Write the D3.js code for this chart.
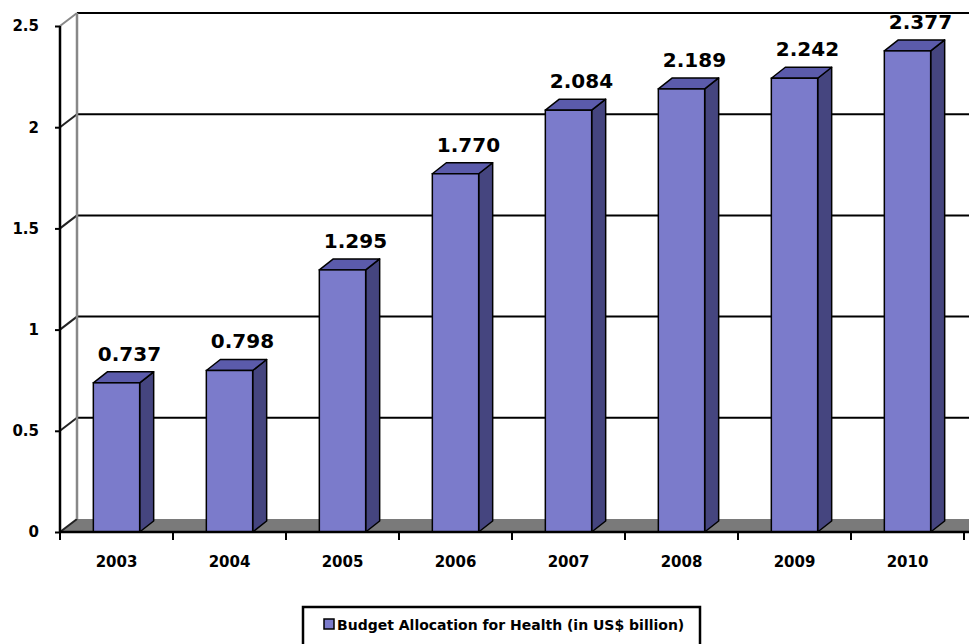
<!DOCTYPE html>
<html lang="en">
<head>
  <meta charset="UTF-8">
  <title>Budget Allocation for Health</title>
  <style>
    body {
      margin: 0;
      background-color: white;
    }

    text {
      font-family: "DejaVu Sans", Verdana, sans-serif;
      font-weight: bold;
      fill: black;
    }

    .value {
      font-size: 20px;
      text-anchor: middle;
    }

    .axis path {
      display: none;
    }

    .axis line {
      stroke: black;
      stroke-width: 2;
    }
  </style>
</head>
<body>
  <svg id="chart" width="969" height="644"></svg>

  <script src="https://d3js.org/d3.v7.min.js"></script>
  <script>
    var years = ["2003", "2004", "2005", "2006", "2007", "2008", "2009", "2010"];
    var budget = [0.737, 0.798, 1.295, 1.770, 2.084, 2.189, 2.242, 2.377];
    var yTicks = [0, 0.5, 1, 1.5, 2, 2.5];
    var legendLabel = "Budget Allocation for Health (in US$ billion)";

    var chart = d3.select("#chart");

    var plotLeft = 60, plotRight = 964, plotBottom = 532, plotTop = 26;
    // depth offsets for the back wall and for the bar tops
    var wallDx = 17, wallDy = -13;
    var barDx = 14, barDy = -11;

    var xBand = d3.scaleBand().domain(years).range([plotLeft, plotRight]);
    var x = d3.scaleBand().domain(years).range([plotLeft, plotRight])
      .paddingInner(0.59).paddingOuter(0.295);
    var y = d3.scaleLinear().domain([0, 2.5]).range([plotBottom, plotTop]);

    var colFront = "#7b7bcb", colSide = "#45457f", colTop = "#5b5bab";

    // floor
    chart.append("polygon")
      .attr("points", [[plotLeft, plotBottom], [plotLeft + wallDx, plotBottom + wallDy],
        [plotRight + wallDx + 20, plotBottom + wallDy], [plotRight + 20, plotBottom]].join(" "))
      .attr("fill", "#7a7a7a");

    // back wall gridlines
    chart.selectAll(".grid")
      .data(yTicks.filter(function(d) { return d > 0; }))
      .enter().append("line")
      .attr("class", "grid")
      .attr("x1", plotLeft + wallDx)
      .attr("x2", 990)
      .attr("y1", function(d) { return y(d) + wallDy; })
      .attr("y2", function(d) { return y(d) + wallDy; })
      .attr("stroke", "black")
      .attr("stroke-width", 2);

    // side wall lines
    chart.selectAll(".diag")
      .data(yTicks)
      .enter().append("line")
      .attr("class", "diag")
      .attr("x1", plotLeft)
      .attr("y1", function(d) { return y(d); })
      .attr("x2", plotLeft + wallDx)
      .attr("y2", function(d) { return y(d) + wallDy; })
      .attr("stroke", function(d) { return d === 2.5 ? "#888" : "#222"; })
      .attr("stroke-width", 2);

    chart.append("line")
      .attr("x1", plotLeft + wallDx).attr("x2", plotLeft + wallDx)
      .attr("y1", y(2.5) + wallDy).attr("y2", y(0) + wallDy)
      .attr("stroke", "#888")
      .attr("stroke-width", 2.5);

    // bars
    var bars = chart.selectAll(".bar")
      .data(budget)
      .enter().append("g")
      .attr("class", "bar");

    bars.append("polygon")
      .attr("points", function(d, i) {
        var x1 = x(years[i]) + x.bandwidth();
        return [[x1, y(d)], [x1 + barDx, y(d) + barDy], [x1 + barDx, plotBottom + barDy], [x1, plotBottom]].join(" ");
      })
      .attr("fill", colSide)
      .attr("stroke", "black")
      .attr("stroke-width", 1.5)
      .attr("stroke-linejoin", "round");

    bars.append("polygon")
      .attr("points", function(d, i) {
        var x0 = x(years[i]), x1 = x0 + x.bandwidth();
        return [[x0, y(d)], [x0 + barDx, y(d) + barDy], [x1 + barDx, y(d) + barDy], [x1, y(d)]].join(" ");
      })
      .attr("fill", colTop)
      .attr("stroke", "black")
      .attr("stroke-width", 1.5)
      .attr("stroke-linejoin", "round");

    bars.append("rect")
      .attr("x", function(d, i) { return x(years[i]); })
      .attr("y", function(d) { return y(d); })
      .attr("width", x.bandwidth())
      .attr("height", function(d) { return plotBottom - y(d); })
      .attr("fill", colFront)
      .attr("stroke", "black")
      .attr("stroke-width", 1.5);

    chart.selectAll(".value")
      .data(budget)
      .enter().append("text")
      .attr("class", "value")
      .attr("x", function(d, i) { return x(years[i]) + x.bandwidth() / 2 + 13; })
      .attr("y", function(d) { return y(d) - 22; })
      .text(function(d) { return d3.format(".3f")(d); });

    // front axes
    chart.append("line")
      .attr("x1", plotLeft).attr("x2", plotLeft)
      .attr("y1", plotTop).attr("y2", plotBottom)
      .attr("stroke", "black").attr("stroke-width", 2.5);

    chart.append("line")
      .attr("x1", plotLeft).attr("x2", plotRight + 6)
      .attr("y1", plotBottom).attr("y2", plotBottom)
      .attr("stroke", "black").attr("stroke-width", 2.5);

    var yAxis = chart.append("g")
      .attr("class", "axis")
      .attr("transform", "translate(" + plotLeft + ",0)")
      .call(d3.axisLeft(y).tickValues(yTicks).tickFormat(function(d) { return d; })
        .tickSize(5).tickPadding(16));
    yAxis.selectAll("text").style("font-size", "15px");

    var xAxis = chart.append("g")
      .attr("class", "axis")
      .attr("transform", "translate(0," + plotBottom + ")")
      .call(d3.axisBottom(xBand).tickSize(0).tickPadding(24));
    xAxis.selectAll("text").style("font-size", "15px");

    chart.selectAll(".xtick")
      .data(years.map(function(d) { return xBand(d); }).concat([plotRight]))
      .enter().append("line")
      .attr("class", "xtick")
      .attr("x1", function(d) { return d; })
      .attr("x2", function(d) { return d; })
      .attr("y1", plotBottom)
      .attr("y2", plotBottom + 8)
      .attr("stroke", "black")
      .attr("stroke-width", 2);

    // legend
    var legend = chart.append("g");
    legend.append("rect")
      .attr("x", 303).attr("y", 607)
      .attr("width", 397).attr("height", 60)
      .attr("fill", "white")
      .attr("stroke", "black")
      .attr("stroke-width", 2.5);
    legend.append("rect")
      .attr("x", 324).attr("y", 619)
      .attr("width", 10).attr("height", 10)
      .attr("fill", colFront)
      .attr("stroke", "black")
      .attr("stroke-width", 1.5);
    legend.append("text")
      .attr("x", 337).attr("y", 630)
      .style("font-size", "14px")
      .text(legendLabel);
  </script>
</body>
</html>
